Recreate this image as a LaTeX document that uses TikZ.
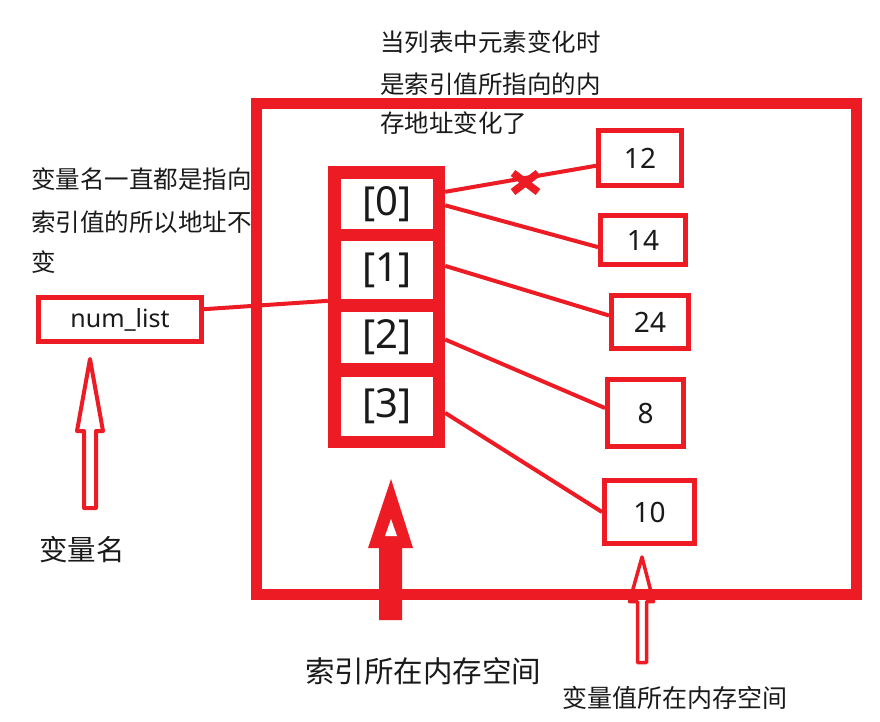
\documentclass[tikz,border=0pt]{standalone}
\usepackage{fontspec}
\setmainfont{Noto Sans CJK SC}
\newfontfamily\latf{Noto Sans}
\definecolor{pr}{HTML}{ED1C24}
\definecolor{ink}{HTML}{1A1A1A}
\begin{document}
\begin{tikzpicture}[x=1pt,y=-1pt,
  valbox/.style={draw=pr, line width=5pt, fill=white, inner sep=0pt, font=\latf\fontsize{28}{30}\selectfont, text=ink},
  cell/.style={fill=white, inner sep=0pt, minimum width=92pt, font=\latf\fontsize{40}{44}\selectfont, text=ink},
  link/.style={draw=pr, line width=4pt},
  cjk/.style={anchor=west, inner sep=0pt, text=ink},
  hollow/.style={draw=pr, fill=white, line width=4pt, line join=round}
]
\useasboundingbox (0,0) rectangle (880,721);
\fill[white] (0,0) rectangle (880,721);

% value-space arrow (behind the frame)
\draw[hollow, line width=3.5pt] (642,557) -- (653.5,601.5) -- (646.5,601.5) -- (646.5,662.5) -- (637.5,662.5) -- (637.5,601.5) -- (629.5,601.5) -- cycle;

% memory frame
\draw[pr, line width=11pt] (256,103) rectangle (856,594);

% index column
\node[fill=pr, minimum width=117pt, minimum height=282pt, inner sep=0pt] (col) at (386.5,307) {};
\node[cell, minimum height=50pt] (c0) at (387,204) {[0]};
\node[cell, minimum height=58pt] (c1) at (387,270) {[1]};
\node[cell, minimum height=51pt] (c2) at (387,337.5) {[2]};
\node[cell, minimum height=59pt] (c3) at (387,406.5) {[3]};

% value boxes
\node[valbox, minimum width=83pt, minimum height=55pt] (v12) at (640,158) {12};
\node[valbox, minimum width=85pt, minimum height=49pt] (v14) at (643,240) {14};
\node[valbox, minimum width=77pt, minimum height=53pt] (v24) at (650,322) {24};
\node[valbox, minimum width=76pt, minimum height=67pt] (v8) at (645.5,413) {8};
\node[valbox, minimum width=90pt, minimum height=63pt] (v10) at (649.5,512) {10};
\node[valbox, minimum width=163pt, minimum height=44pt, font=\latf\fontsize{25}{28}\selectfont] (nm) at (120,319.5) {num\_list};

% links
\draw[link] (col.63) -- (v12.190);
\draw[link] (col.60) -- (v14.189);
\draw[link] (col.35) -- (v24.171);
\draw[link] (col.-29) -- (v8.173);
\draw[link] (col.-61) -- (v10.west);
\draw[link] (nm.7) -- (col.174);

% cross mark
\draw[pr, line width=7.5pt] (513,173) -- (538,192) (538,173) -- (513,192);

% arrows
\draw[hollow] (90,359) -- (103,431) -- (96,431) -- (96,508) -- (84,508) -- (84,431) -- (77,431) -- cycle;
\fill[pr] (391,479) -- (413,548) -- (402,548) -- (402,620) -- (379,620) -- (379,548) -- (368,548) -- cycle;
\fill[white] (391,519) -- (397,536) -- (385,536) -- cycle;

% texts
\node[cjk, font=\fontsize{24.5}{26}\selectfont] (ta) at (380,42) {当列表中元素变化时};
\node[cjk, font=\fontsize{24.5}{26}\selectfont] (tb) at (380,84) {是索引值所指向的内};
\node[cjk, font=\fontsize{24.5}{26}\selectfont] (tc) at (380,123) {存地址变化了};
\node[cjk, font=\fontsize{24.5}{26}\selectfont] (la) at (31,179) {变量名一直都是指向};
\node[cjk, font=\fontsize{24.5}{26}\selectfont] (lb) at (31,222) {索引值的所以地址不};
\node[cjk, font=\fontsize{24.5}{26}\selectfont] (lc) at (31,262) {变};
\node[cjk, font=\fontsize{28.5}{30}\selectfont] (vn) at (39,550) {变量名};
\node[cjk, font=\fontsize{29.5}{32}\selectfont] (ix) at (305,671) {索引所在内存空间};
\node[cjk, font=\fontsize{25}{27}\selectfont] (vv) at (562,698) {变量值所在内存空间};
\end{tikzpicture}
\end{document}
